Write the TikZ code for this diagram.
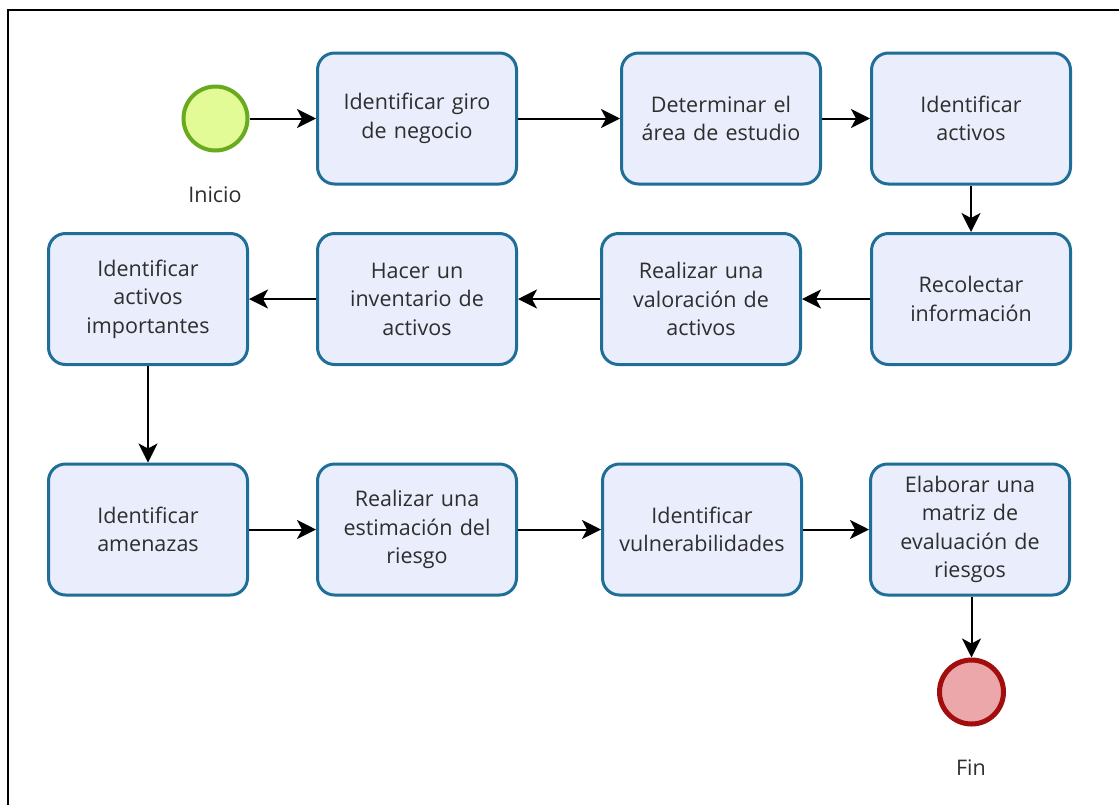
\documentclass[tikz,border=0pt]{standalone}
\usepackage{fontspec}
\setmainfont{Open Sans}
\usetikzlibrary{arrows.meta}
\definecolor{boxfill}{HTML}{E9EDFC}
\definecolor{boxdraw}{HTML}{1E6E98}
\definecolor{startfill}{HTML}{E2FB96}
\definecolor{startdraw}{HTML}{6AAA1E}
\definecolor{endfill}{HTML}{EBA7A9}
\definecolor{enddraw}{HTML}{A20E0E}
\definecolor{txt}{HTML}{2E2E2E}
\tikzset{
  task/.style={draw=boxdraw, fill=boxfill, line width=3pt, rounded corners=17pt,
    minimum width=199pt, minimum height=131pt, align=center, text width=195pt,
    text=txt, font=\fontsize{21.5}{28.5}\selectfont, inner sep=0pt},
  startev/.style={circle, draw=startdraw, fill=startfill, line width=4pt, minimum size=64pt, inner sep=0pt},
  endev/.style={circle, draw=enddraw, fill=endfill, line width=5pt, minimum size=64pt, inner sep=0pt},
  lbl/.style={text=txt, font=\fontsize{21.5}{24}\selectfont, inner sep=0pt},
  flow/.style={line width=2pt, -{Stealth[length=19pt, width=19pt, inset=5pt]}},
}
\begin{document}
\begin{tikzpicture}[x=1pt, y=-1pt]
\useasboundingbox (0,0) rectangle (1119,804);
\fill[white] (0,0) rectangle (1119,804);
\draw[line width=2pt] (8,812) -- (8,9.5) -- (1130,9.5);
% row 1
\node[startev] (start) at (215.5,118.5) {};
\node[lbl] (inicio) at (215,195) {Inicio};
\node[task] (b1) at (417,118.5) {Identificar giro\\de negocio};
\node[task] (b2) at (721,118.5) {Determinar el\\área de estudio};
\node[task] (b3) at (971,118.5) {Identificar\\activos};
% row 2
\node[task] (b4) at (148,299) {Identificar\\activos\\importantes};
\node[task] (b5) at (417,299) {Hacer un\\inventario de\\activos};
\node[task] (b6) at (701,299) {Realizar una\\valoración de\\activos};
\node[task] (b7) at (971,299) {Recolectar\\información};
% row 3
\node[task] (b8) at (148,529.5) {Identificar\\amenazas};
\node[task] (b9) at (417,529.5) {Realizar una\\estimación del\\riesgo};
\node[task] (b10) at (702,529.5) {Identificar\\vulnerabilidades};
\node[task] (b11) at (970,529.5) {Elaborar una\\matriz de\\evaluación de\\riesgos};
\node[endev] (fin) at (971.5,692) {};
\node[lbl] (finl) at (971,768) {Fin};
% flows
\draw[flow] (start) -- (b1);
\draw[flow] (b1) -- (b2);
\draw[flow] (b2) -- (b3);
\draw[flow] (b3) -- (b7);
\draw[flow] (b7) -- (b6);
\draw[flow] (b6) -- (b5);
\draw[flow] (b5) -- (b4);
\draw[flow] (b4) -- (b8);
\draw[flow] (b8) -- (b9);
\draw[flow] (b9.east) -- ++(40,0) |- (b10.west);
\draw[flow] (b10.east) -- ++(34,0) |- (b11.west);
\draw[flow] (b11.south -| fin) -- (fin);
\end{tikzpicture}
\end{document}
